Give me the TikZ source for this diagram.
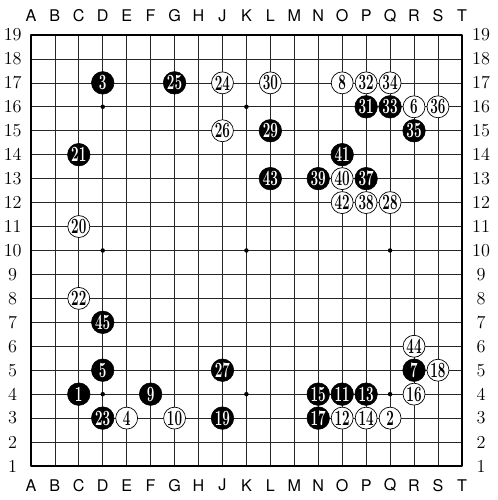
\documentclass[tikz,border=0pt]{standalone}
\usepackage{fontspec}
\newfontfamily\colfont{TeX Gyre Heros}
\newcommand{\mv}[1]{\scalebox{.62}[1]{#1}}
\begin{document}
\begin{tikzpicture}[x=0.6cm, y=0.6cm, line join=round, line cap=round,
	bstone/.style={circle, draw=black, fill=black, inner sep=0pt, minimum size=0.565cm, text=white, font=\fontsize{15.5}{16}\selectfont\bfseries},
	wstone/.style={circle, draw=black, fill=white, line width=0.5pt, inner sep=0pt, minimum size=0.55cm, text=black, font=\fontsize{15.5}{16}\selectfont\bfseries},
	hoshi/.style={circle, fill=black, inner sep=0pt, minimum size=3.2pt}]
	%Khung hình.
	\useasboundingbox (-1.29,-1.42) rectangle (19.49,19.46);
	%Lưới bàn cờ.
	\foreach \i in {1,...,17}{
		\draw[line width=0.45pt, black!85] (\i,0)--(\i,18);
		\draw[line width=0.45pt, black!85] (0,\i)--(18,\i);
	}
	\draw[line width=1.3pt] (0,0) rectangle (18,18);
	%Tên cột và hàng.
	\foreach \c [count=\i from 0] in {A,B,C,D,E,F,G,H,J,K,L,M,N,O,P,Q,R,S,T}{
		\node[font=\colfont\fontsize{11.5}{12}\selectfont] (top\c) at (\i,18.8) {\c};
		\node[font=\colfont\fontsize{11.5}{12}\selectfont] (bot\c) at (\i,-0.8) {\c};
	}
	\foreach \r in {1,...,19}{
		\node[font=\fontsize{13}{13}\selectfont] (left\r) at (-0.76,\r-1) {\r};
		\node[font=\fontsize{13}{13}\selectfont] (right\r) at (18.8,\r-1) {\r};
	}
	%Hoshi.
	\foreach \x/\y in {3/15,9/15,15/15,3/9,9/9,15/9,3/3,9/3,15/3}{
		\node[hoshi] (h\x-\y) at (\x,\y) {};
	}
	%Quân đen.
	\foreach \n/\x/\y in {1/2/3,3/3/16,5/3/4,7/16/4,9/5/3,11/13/3,13/14/3,15/12/3,17/12/2,19/8/2,21/2/13,23/3/2,25/6/16,27/8/4,29/10/14,31/14/15,33/15/15,35/16/14,37/14/12,39/12/12,41/13/13,43/10/12,45/3/6}{
		\node[bstone] (m\n) at (\x,\y) {\mv{\n}};
	}
	%Quân trắng.
	\foreach \n/\x/\y in {2/15/2,4/4/2,6/16/15,8/13/16,10/6/2,12/13/2,14/14/2,16/16/3,18/17/4,20/2/10,22/2/7,24/8/16,26/8/14,28/15/11,30/10/16,32/14/16,34/15/16,36/17/15,38/14/11,40/13/12,42/13/11,44/16/5}{
		\node[wstone] (m\n) at (\x,\y) {\mv{\n}};
	}
\end{tikzpicture}
\end{document}
